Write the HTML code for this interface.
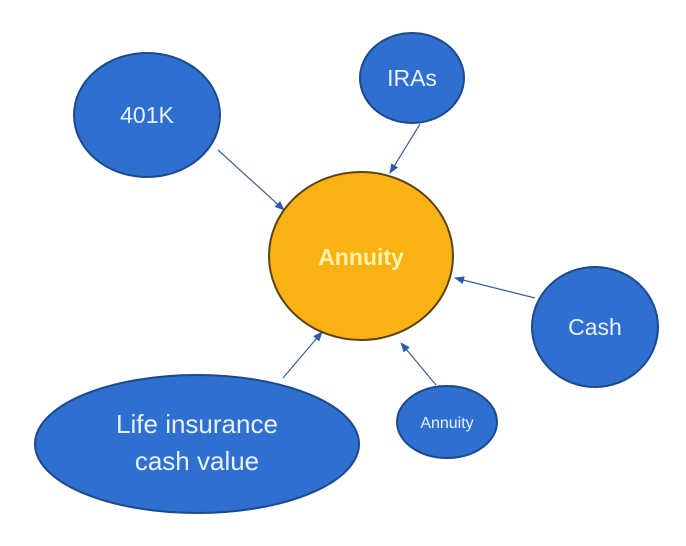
<!DOCTYPE html>
<html><head><style>
html,body{margin:0;padding:0;background:#fff;}
svg{display:block;}
text{font-family:"Liberation Sans","DejaVu Sans",sans-serif;}
</style></head><body>
<svg width="686" height="546" viewBox="0 0 686 546" xmlns="http://www.w3.org/2000/svg">
<defs>
<marker id="a" markerWidth="10" markerHeight="8" refX="9" refY="4" orient="auto" markerUnits="userSpaceOnUse">
<path d="M0,0 L10,4 L0,8 z" fill="#2a5aa8"/>
</marker>
</defs>
<g stroke="#3a5f9a" stroke-width="1.2" fill="none" marker-end="url(#a)">
<line x1="218" y1="150" x2="284" y2="210"/>
<line x1="420" y1="124" x2="390" y2="173"/>
<line x1="535" y1="298" x2="455" y2="278"/>
<line x1="436" y1="385" x2="401" y2="343"/>
<line x1="283" y1="378" x2="322" y2="332"/>
</g>
<g fill="#2e6fd0" stroke="#1d4a8a" stroke-width="2">
<ellipse cx="147" cy="115" rx="73" ry="62"/>
<ellipse cx="412" cy="78" rx="52" ry="45"/>
<ellipse cx="595" cy="327" rx="63" ry="60"/>
<ellipse cx="447" cy="422" rx="50" ry="36"/>
<ellipse cx="197" cy="444" rx="162" ry="69"/>
</g>
<ellipse cx="361" cy="256" rx="92" ry="84" fill="#f9b213" stroke="#5a4410" stroke-width="2"/>
<g fill="#e8f1fa" text-anchor="middle">
<text x="147" y="123" font-size="23">401K</text>
<text x="412" y="86" font-size="23">IRAs</text>
<text x="595" y="335" font-size="23">Cash</text>
<text x="447" y="428" font-size="16">Annuity</text>
<text x="197" y="433" font-size="26">Life insurance</text>
<text x="197" y="470" font-size="26">cash value</text>
</g>
<text x="361" y="265" font-size="23" font-weight="bold" fill="#fff3a8" text-anchor="middle">Annuity</text>
</svg>
</body></html>
